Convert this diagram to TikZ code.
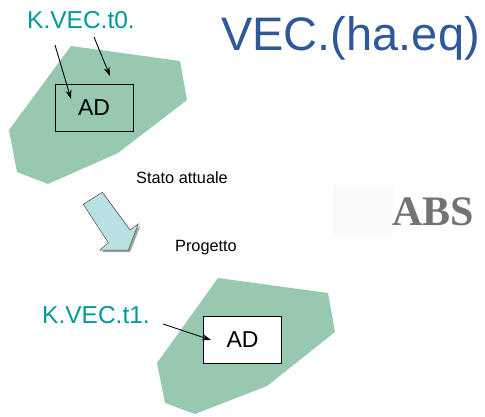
\documentclass[tikz,border=0pt]{standalone}
\usepackage{fontspec}
\setmainfont{Liberation Sans}
\newfontfamily\absfont{Liberation Serif}
\usetikzlibrary{arrows.meta}
\definecolor{blobgreen}{RGB}{150,201,176}
\definecolor{teallabel}{RGB}{0,153,153}
\definecolor{titleblue}{RGB}{46,88,152}
\definecolor{arrowcyan}{RGB}{186,225,228}
\tikzset{
  blob/.style={fill=blobgreen, draw=none},
  adbox/.style={draw=black, line width=0.9pt, minimum width=78pt, minimum height=47pt, inner sep=0pt, font=\fontsize{23}{25}\selectfont},
  klabel/.style={text=teallabel, font=\fontsize{24.5}{27}\selectfont, inner sep=0pt},
  small/.style={font=\fontsize{16.3}{18}\selectfont, inner sep=0pt},
  pointer/.style={-{Stealth[length=9pt,width=6pt]}, line width=0.9pt, black},
}
\begin{document}
\begin{tikzpicture}[x=1pt,y=-1pt]
\useasboundingbox (0,0) rectangle (485,417);
\fill[white] (0,0) rectangle (485,417);
% top blob
\path[blob] (71,46) -- (180,61) -- (187,100) -- (118,153) -- (48,184) -- (17,172) -- (9,130) -- cycle;
\node[adbox] (ad0) at (94,107.5) {AD};
\node[klabel] (k0) at (81,20) {K.VEC.t0.};
\coordinate (a1s) at (55,45);
\coordinate (a1e) at (71,99);
\coordinate (a2s) at (94,37);
\coordinate (a2e) at (110,76);
\draw[pointer] (a1s) -- (a1e);
\draw[pointer] (a2s) -- (a2e);
% title
\node[text=titleblue, font=\fontsize{47}{50}\selectfont, inner sep=0pt, anchor=west] (title) at (221,38) {VEC.(ha.eq)};
% labels
\node[small] (stato) at (182,178) {Stato attuale};
\node[small] (prog) at (206,248) {Progetto};
% block arrow with shadow
\fill[gray!70] (104.3,194.3) -- (85.3,206.3) -- (110.3,244.7) -- (102,252) -- (130.3,252) -- (140.3,226) -- (132,232) -- cycle;
\draw[fill=arrowcyan, draw=black!70, line width=0.5pt] (102.3,192.3) -- (83.3,204.3) -- (108.3,242.7) -- (100,250) -- (128.3,250) -- (138.3,224) -- (130,230) -- cycle;
% pixelated image
\fill[black!2] (333,185) rectangle (393,236);
\node[text=black!55, font=\absfont\bfseries\fontsize{42}{44}\selectfont, inner sep=0pt, anchor=west] (abs) at (392,212) {ABS};
% bottom blob
\path[blob] (218,278) -- (328,293) -- (335,332) -- (267,386) -- (195,414) -- (165,403) -- (157,363) -- cycle;
\node[adbox, fill=white] (ad1) at (242.5,340) {AD};
\node[klabel] (k1) at (96,315) {K.VEC.t1.};
\coordinate (a3s) at (163,324);
\coordinate (a3e) at (211,340);
\draw[pointer] (a3s) -- (a3e);
\end{tikzpicture}
\end{document}
